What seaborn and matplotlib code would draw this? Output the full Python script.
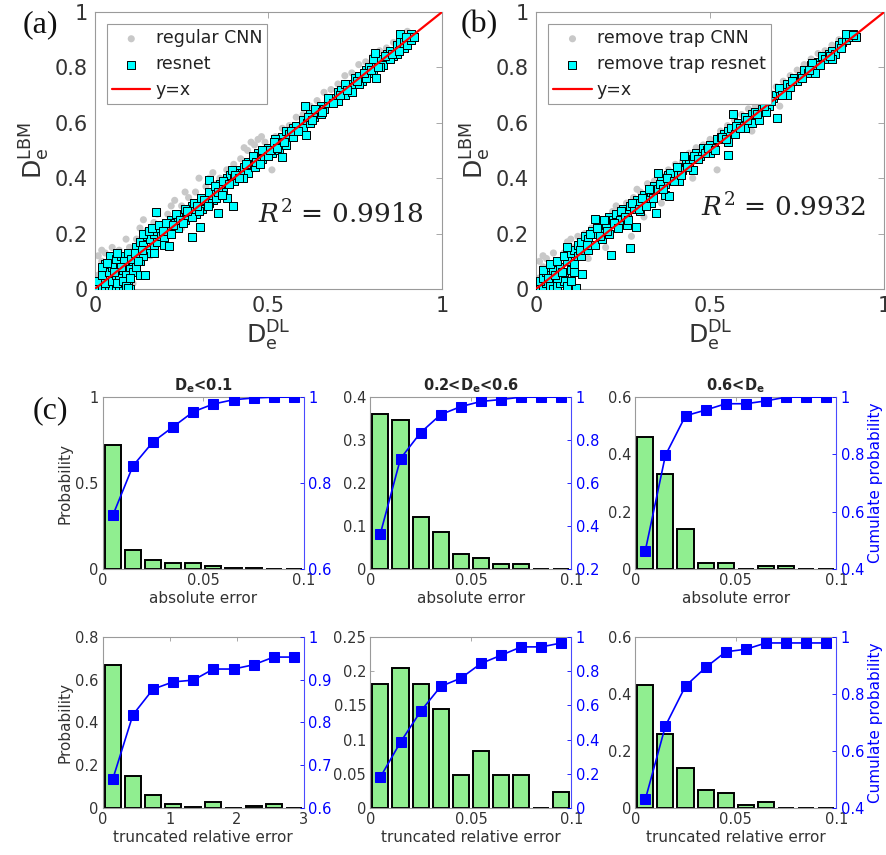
import matplotlib
matplotlib.use('Agg')
import matplotlib.pyplot as plt
import seaborn as sns

sns.set_style('white')
plt.rcParams['font.family'] = ['DejaVu Sans']
plt.rcParams['mathtext.fontset'] = 'dejavusans'

# ---------------- scatter data (D_e^DL, D_e^LBM) ----------------
cnn_a = [(0.00, 0.02), (0.01, 0.05), (0.01, 0.12), (0.02, 0.10), (0.03, 0.13), (0.04, 0.07),
         (0.05, 0.10), (0.07, 0.14), (0.09, 0.18), (0.10, 0.15), (0.12, 0.18), (0.13, 0.22),
         (0.15, 0.21), (0.17, 0.24), (0.19, 0.23), (0.21, 0.27), (0.23, 0.32), (0.25, 0.30),
         (0.27, 0.33), (0.29, 0.35), (0.30, 0.40), (0.32, 0.37), (0.34, 0.42), (0.36, 0.40),
         (0.38, 0.43), (0.40, 0.45), (0.42, 0.47), (0.44, 0.50), (0.46, 0.52), (0.47, 0.54),
         (0.49, 0.53), (0.51, 0.43), (0.52, 0.55), (0.54, 0.58), (0.56, 0.59), (0.58, 0.62),
         (0.60, 0.63), (0.62, 0.66), (0.64, 0.68), (0.66, 0.71), (0.68, 0.72), (0.70, 0.74),
         (0.72, 0.77), (0.74, 0.78), (0.76, 0.81), (0.78, 0.82), (0.80, 0.84), (0.82, 0.86),
         (0.84, 0.87), (0.86, 0.89), (0.88, 0.91), (0.90, 0.93), (0.35, 0.38), (0.20, 0.16),
         (0.16, 0.12), (0.25, 0.22), (0.08, 0.04), (0.06, 0.00), (0.11, 0.02), (0.31, 0.28),
         (0.02, 0.14), (0.05, 0.15), (0.14, 0.25), (0.18, 0.27), (0.22, 0.30), (0.26, 0.35),
         (0.33, 0.40), (0.43, 0.51), (0.45, 0.53), (0.48, 0.55)]

resnet_a = [(0.00, 0.00), (0.01, 0.00), (0.02, 0.01), (0.03, 0.00), (0.04, 0.00), (0.05, 0.00),
            (0.06, 0.00), (0.07, 0.00), (0.08, 0.00), (0.09, 0.00), (0.10, 0.00), (0.095, 0.02),
            (0.01, 0.03), (0.02, 0.05), (0.03, 0.02), (0.04, 0.06), (0.05, 0.03), (0.06, 0.05),
            (0.07, 0.04), (0.08, 0.07), (0.09, 0.05), (0.10, 0.08), (0.11, 0.06), (0.03, 0.09),
            (0.045, 0.12), (0.06, 0.11), (0.075, 0.12), (0.085, 0.10), (0.095, 0.13), (0.11, 0.10),
            (0.12, 0.12), (0.02, 0.08), (0.05, 0.08), (0.065, 0.02), (0.08, 0.03), (0.09, 0.01),
            (0.10, 0.04), (0.12, 0.08), (0.13, 0.05), (0.144, 0.052), (0.034, 0.094), (0.0625, 0.13),
            (0.12, 0.15), (0.13, 0.17), (0.14, 0.16), (0.15, 0.19), (0.16, 0.18), (0.17, 0.20),
            (0.18, 0.21), (0.15, 0.14), (0.16, 0.13), (0.17, 0.15), (0.18, 0.17), (0.19, 0.19),
            (0.20, 0.18), (0.21, 0.22), (0.22, 0.25), (0.23, 0.24), (0.24, 0.22), (0.25, 0.27),
            (0.26, 0.25), (0.27, 0.29), (0.28, 0.30), (0.29, 0.27), (0.30, 0.31), (0.31, 0.29),
            (0.32, 0.33), (0.33, 0.35), (0.34, 0.32), (0.35, 0.36), (0.36, 0.38), (0.37, 0.35),
            (0.38, 0.40), (0.39, 0.41), (0.40, 0.39), (0.41, 0.43), (0.42, 0.42), (0.43, 0.44),
            (0.44, 0.46), (0.45, 0.45), (0.46, 0.47), (0.47, 0.49), (0.48, 0.47), (0.49, 0.50),
            (0.50, 0.51), (0.51, 0.49), (0.52, 0.52), (0.53, 0.50), (0.54, 0.55), (0.55, 0.57),
            (0.56, 0.56), (0.57, 0.58), (0.58, 0.59), (0.59, 0.57), (0.60, 0.61), (0.61, 0.60),
            (0.62, 0.63), (0.63, 0.62), (0.64, 0.64), (0.65, 0.66), (0.66, 0.65), (0.67, 0.67),
            (0.68, 0.69), (0.69, 0.68), (0.70, 0.71), (0.71, 0.72), (0.72, 0.70), (0.73, 0.74),
            (0.74, 0.73), (0.75, 0.76), (0.76, 0.77), (0.77, 0.75), (0.78, 0.79), (0.79, 0.80),
            (0.80, 0.78), (0.81, 0.82), (0.82, 0.83), (0.83, 0.81), (0.84, 0.85), (0.85, 0.86),
            (0.86, 0.84), (0.87, 0.88), (0.88, 0.89), (0.89, 0.90), (0.90, 0.91), (0.91, 0.92),
            (0.92, 0.91), (0.13, 0.10), (0.14, 0.12), (0.17, 0.13), (0.20, 0.16), (0.22, 0.20),
            (0.24, 0.26), (0.26, 0.29), (0.28, 0.26), (0.30, 0.28), (0.33, 0.31), (0.35, 0.33),
            (0.37, 0.39), (0.40, 0.42), (0.42, 0.40), (0.44, 0.42), (0.46, 0.44), (0.48, 0.50),
            (0.50, 0.48), (0.52, 0.54), (0.55, 0.52), (0.57, 0.55), (0.60, 0.58), (0.62, 0.60),
            (0.65, 0.63), (0.67, 0.69), (0.70, 0.68), (0.72, 0.74), (0.74, 0.71), (0.76, 0.74),
            (0.78, 0.76), (0.80, 0.83), (0.82, 0.80), (0.85, 0.83), (0.87, 0.85), (0.89, 0.87),
            (0.90, 0.88), (0.88, 0.92), (0.91, 0.90), (0.175, 0.277), (0.279, 0.186), (0.214, 0.154),
            (0.303, 0.222), (0.330, 0.394), (0.356, 0.274), (0.399, 0.301), (0.380, 0.328),
            (0.606, 0.660), (0.609, 0.556), (0.538, 0.478), (0.096, 0.004), (0.808, 0.852),
            (0.810, 0.763), (0.918, 0.910), (0.428, 0.402),
            (0.14, 0.20), (0.155, 0.21), (0.165, 0.22), (0.185, 0.23), (0.195, 0.21), (0.205, 0.24),
            (0.225, 0.23), (0.235, 0.27), (0.245, 0.25), (0.255, 0.24), (0.265, 0.28), (0.285, 0.31),
            (0.295, 0.30), (0.305, 0.33), (0.315, 0.32), (0.325, 0.30), (0.345, 0.37), (0.355, 0.35),
            (0.365, 0.34), (0.385, 0.38), (0.395, 0.43), (0.405, 0.41), (0.415, 0.40), (0.435, 0.45),
            (0.455, 0.48), (0.465, 0.46), (0.475, 0.45), (0.505, 0.50), (0.515, 0.53), (0.525, 0.51),
            (0.545, 0.53), (0.565, 0.57), (0.585, 0.57), (0.615, 0.62), (0.625, 0.61), (0.635, 0.65),
            (0.655, 0.64), (0.685, 0.67), (0.705, 0.70), (0.725, 0.72), (0.755, 0.75), (0.775, 0.78),
            (0.795, 0.79), (0.815, 0.80), (0.835, 0.84), (0.855, 0.85), (0.875, 0.86), (0.895, 0.91),
            (0.105, 0.11), (0.115, 0.13), (0.125, 0.10), (0.135, 0.14), (0.075, 0.08), (0.055, 0.06)]

cnn_b = [(0.00, 0.01), (0.01, 0.04), (0.01, 0.10), (0.02, 0.08), (0.03, 0.11), (0.04, 0.06),
         (0.06, 0.09), (0.08, 0.13), (0.09, 0.17), (0.11, 0.15), (0.12, 0.19), (0.14, 0.20),
         (0.16, 0.22), (0.18, 0.23), (0.20, 0.25), (0.22, 0.28), (0.24, 0.29), (0.26, 0.31),
         (0.28, 0.33), (0.30, 0.35), (0.32, 0.38), (0.34, 0.39), (0.36, 0.41), (0.38, 0.43),
         (0.40, 0.45), (0.42, 0.46), (0.44, 0.49), (0.46, 0.51), (0.48, 0.52), (0.50, 0.54),
         (0.52, 0.43), (0.53, 0.57), (0.55, 0.59), (0.57, 0.61), (0.59, 0.63), (0.61, 0.65),
         (0.63, 0.66), (0.65, 0.69), (0.67, 0.71), (0.69, 0.73), (0.71, 0.75), (0.73, 0.77),
         (0.75, 0.79), (0.77, 0.81), (0.79, 0.83), (0.81, 0.85), (0.83, 0.86), (0.85, 0.88),
         (0.87, 0.90), (0.89, 0.92), (0.274, 0.19), (0.20, 0.15), (0.15, 0.11), (0.36, 0.31),
         (0.45, 0.40), (0.62, 0.57), (0.07, 0.02), (0.10, 0.04), (0.70, 0.66), (0.31, 0.26),
         (0.02, 0.12), (0.05, 0.13), (0.10, 0.18), (0.17, 0.25), (0.23, 0.30), (0.29, 0.36)]

resnet_b = [(0.00, 0.00), (0.01, 0.01), (0.02, 0.00), (0.03, 0.02), (0.04, 0.01), (0.05, 0.00),
            (0.06, 0.01), (0.07, 0.02), (0.08, 0.03), (0.09, 0.01), (0.01, 0.03), (0.02, 0.04),
            (0.03, 0.06), (0.04, 0.05), (0.05, 0.07), (0.06, 0.04), (0.07, 0.08), (0.08, 0.06),
            (0.09, 0.10), (0.10, 0.07), (0.11, 0.09), (0.02, 0.07), (0.04, 0.09), (0.06, 0.10),
            (0.08, 0.12), (0.10, 0.13), (0.11, 0.14), (0.12, 0.12), (0.09, 0.15), (0.12, 0.16),
            (0.115, 0.004), (0.131, 0.055), (0.10, 0.03), (0.11, 0.06), (0.13, 0.17), (0.14, 0.19),
            (0.15, 0.18), (0.16, 0.21), (0.17, 0.20), (0.18, 0.24), (0.19, 0.22), (0.20, 0.23),
            (0.21, 0.26), (0.22, 0.25), (0.13, 0.12), (0.15, 0.14), (0.17, 0.16), (0.19, 0.18),
            (0.21, 0.20), (0.23, 0.27), (0.24, 0.25), (0.25, 0.29), (0.26, 0.27), (0.27, 0.30),
            (0.28, 0.29), (0.29, 0.32), (0.30, 0.31), (0.31, 0.34), (0.32, 0.33), (0.33, 0.35),
            (0.34, 0.37), (0.35, 0.36), (0.36, 0.39), (0.37, 0.38), (0.38, 0.41), (0.39, 0.40),
            (0.40, 0.42), (0.41, 0.44), (0.42, 0.43), (0.43, 0.46), (0.44, 0.45), (0.45, 0.47),
            (0.46, 0.49), (0.47, 0.48), (0.48, 0.51), (0.49, 0.50), (0.50, 0.52), (0.51, 0.51),
            (0.52, 0.54), (0.53, 0.55), (0.54, 0.56), (0.55, 0.57), (0.56, 0.58), (0.57, 0.56),
            (0.58, 0.60), (0.59, 0.59), (0.60, 0.62), (0.61, 0.60), (0.62, 0.63), (0.63, 0.64),
            (0.64, 0.63), (0.65, 0.65), (0.66, 0.67), (0.67, 0.66), (0.68, 0.69), (0.69, 0.70),
            (0.70, 0.71), (0.71, 0.72), (0.72, 0.74), (0.73, 0.73), (0.74, 0.76), (0.75, 0.75),
            (0.76, 0.77), (0.77, 0.79), (0.78, 0.78), (0.79, 0.81), (0.80, 0.80), (0.81, 0.82),
            (0.82, 0.84), (0.83, 0.83), (0.84, 0.85), (0.85, 0.86), (0.86, 0.85), (0.87, 0.88),
            (0.88, 0.89), (0.89, 0.90), (0.90, 0.91), (0.91, 0.92), (0.92, 0.91), (0.89, 0.92),
            (0.26, 0.23), (0.30, 0.28), (0.33, 0.31), (0.37, 0.34), (0.41, 0.39), (0.45, 0.43),
            (0.50, 0.49), (0.55, 0.53), (0.60, 0.58), (0.66, 0.64), (0.72, 0.70), (0.80, 0.78),
            (0.85, 0.83), (0.215, 0.121), (0.271, 0.148), (0.288, 0.223), (0.345, 0.276),
            (0.383, 0.334), (0.550, 0.484), (0.693, 0.616), (0.567, 0.631), (0.350, 0.418),
            (0.424, 0.480), (0.386, 0.420), (0.169, 0.252), (0.793, 0.816), (0.911, 0.918),
            (0.697, 0.727), (0.62, 0.60), (0.64, 0.61),
            (0.125, 0.14), (0.145, 0.16), (0.155, 0.20), (0.175, 0.22), (0.185, 0.19), (0.195, 0.25),
            (0.205, 0.21), (0.225, 0.24), (0.235, 0.22), (0.245, 0.28), (0.255, 0.26), (0.265, 0.25),
            (0.275, 0.31), (0.295, 0.29), (0.305, 0.33), (0.315, 0.30), (0.325, 0.36), (0.335, 0.33),
            (0.355, 0.38), (0.365, 0.36), (0.375, 0.40), (0.395, 0.39), (0.405, 0.44), (0.415, 0.41),
            (0.435, 0.44), (0.455, 0.48), (0.465, 0.47), (0.485, 0.49), (0.495, 0.51), (0.515, 0.50),
            (0.535, 0.55), (0.545, 0.54), (0.575, 0.59), (0.585, 0.58), (0.605, 0.61), (0.635, 0.63),
            (0.655, 0.66), (0.675, 0.68), (0.705, 0.70), (0.735, 0.75), (0.765, 0.76), (0.785, 0.79),
            (0.815, 0.81), (0.845, 0.84), (0.875, 0.87), (0.035, 0.04), (0.055, 0.05), (0.075, 0.06)]

diag = [0, 1]

# ---------------- error histograms ----------------
abs_centers = [0.005, 0.015, 0.025, 0.035, 0.045, 0.055, 0.065, 0.075, 0.085, 0.095]
rel_centers_low = [0.15, 0.45, 0.75, 1.05, 1.35, 1.65, 1.95, 2.25, 2.55, 2.85]

abs_prob_low = [0.72, 0.11, 0.055, 0.035, 0.035, 0.015, 0.005, 0.003, 0.002, 0.001]
abs_cum_low = [0.725, 0.84, 0.896, 0.931, 0.966, 0.984, 0.994, 0.998, 1.0, 1.0]
abs_prob_mid = [0.36, 0.347, 0.12, 0.085, 0.036, 0.025, 0.012, 0.012, 0.0, 0.0]
abs_cum_mid = [0.365, 0.714, 0.835, 0.919, 0.956, 0.98, 0.989, 1.0, 1.0, 1.0]
abs_prob_high = [0.46, 0.333, 0.14, 0.022, 0.022, 0.0, 0.011, 0.011, 0.0, 0.0]
abs_cum_high = [0.464, 0.797, 0.935, 0.955, 0.977, 0.977, 0.987, 1.0, 1.0, 1.0]

rel_prob_low = [0.668, 0.151, 0.061, 0.017, 0.006, 0.028, 0.001, 0.011, 0.017, 0.002]
rel_cum_low = [0.668, 0.818, 0.878, 0.895, 0.899, 0.925, 0.925, 0.935, 0.953, 0.953]
rel_prob_mid = [0.181, 0.205, 0.181, 0.145, 0.0485, 0.084, 0.0485, 0.0485, 0.0, 0.024]
rel_cum_mid = [0.181, 0.385, 0.565, 0.711, 0.759, 0.845, 0.893, 0.942, 0.942, 0.965]
rel_prob_high = [0.43, 0.258, 0.14, 0.064, 0.054, 0.011, 0.022, 0.0, 0.0, 0.0]
rel_cum_high = [0.43, 0.688, 0.828, 0.893, 0.948, 0.957, 0.979, 0.979, 0.979, 0.979]

titles = [r'$\mathbf{D_e}$<0.1', r'0.2<$\mathbf{D_e}$<0.6', r'0.6<$\mathbf{D_e}$']

SPINE = '#9a9a9a'
TXT = '#333333'

fig = plt.figure(figsize=(8.86, 8.55), dpi=100)


def scatter_panel(rect, cnn, res, names, r2, r2_xy):
    ax = fig.add_axes(rect)
    cx, cy = zip(*cnn)
    rx, ry = zip(*res)
    sns.scatterplot(x=list(cx), y=list(cy), ax=ax, color='#c8c8c8', s=26,
                    edgecolor='none', label=names[0], zorder=2)
    sns.scatterplot(x=list(rx), y=list(ry), ax=ax, color='#00ffff', marker='s', s=28,
                    edgecolor='black', linewidth=0.7, label=names[1], zorder=3)
    sns.lineplot(x=diag, y=diag, ax=ax, color='red', linewidth=1.6, label='y=x', zorder=4)
    ax.set_xlim(0, 1)
    ax.set_ylim(0, 1)
    ax.set_xticks([0, 0.5, 1])
    ax.set_xticklabels(['0', '0.5', '1'])
    ax.set_yticks([0, 0.2, 0.4, 0.6, 0.8, 1])
    ax.set_yticklabels(['0', '0.2', '0.4', '0.6', '0.8', '1'])
    ax.tick_params(direction='in', length=4, width=0.6, color=SPINE, labelcolor=TXT,
                   labelsize=15, top=True, right=True, pad=5)
    for sp in ax.spines.values():
        sp.set_color(SPINE)
        sp.set_linewidth(0.8)
    ax.set_xlabel(r'$\mathrm{D_e^{DL}}$', fontsize=18, color=TXT, labelpad=2)
    ax.set_ylabel(r'$\mathrm{D_e^{LBM}}$', fontsize=18, color=TXT, labelpad=2)
    leg = ax.legend(loc='upper left', fontsize=12.5, fancybox=False, framealpha=1,
                    edgecolor=SPINE, borderaxespad=0.7, handlelength=2.2,
                    handletextpad=0.3, labelspacing=0.45, borderpad=0.3)
    leg.get_frame().set_linewidth(0.8)
    for t in leg.get_texts():
        t.set_color('#222222')
    ax.text(r2_xy[0], r2_xy[1], r2, fontsize=19, family='DejaVu Serif',
            math_fontfamily='dejavuserif', ha='left', va='center', color='#222222')
    return ax


scatter_panel([0.107, 0.662, 0.392, 0.324], cnn_a, resnet_a,
              ['regular CNN', 'resnet'], r'$R^2$ = 0.9918', (0.47, 0.27))
scatter_panel([0.605, 0.662, 0.393, 0.324], cnn_b, resnet_b,
              ['remove trap CNN', 'remove trap resnet'], r'$R^2$ = 0.9932', (0.475, 0.295))


def hist_panel(rect, centers, probs, cums, xlim, xt, xtl, ylim, yt, ytl, rlim, rt, rtl,
               title=None, xlabel='', left_label=False, right_label=False):
    ax = fig.add_axes(rect)
    sns.barplot(x=centers, y=probs, native_scale=True, ax=ax, color='#90ee90',
                saturation=1, edgecolor='black', linewidth=1.4, width=0.8, errorbar=None)
    ax.set_xlim(*xlim)
    ax.set_ylim(*ylim)
    ax.set_xticks(xt)
    ax.set_xticklabels(xtl)
    ax.set_yticks(yt)
    ax.set_yticklabels(ytl)
    ax.tick_params(direction='in', length=3, width=0.6, color=SPINE, labelcolor=TXT,
                   labelsize=10.5, top=True, right=False, pad=3)
    for k in ['left', 'top', 'bottom']:
        ax.spines[k].set_color(SPINE)
        ax.spines[k].set_linewidth(0.8)
    ax.spines['right'].set_visible(False)
    ax.set_xlabel(xlabel, fontsize=11, color=TXT, labelpad=2)
    ax.set_ylabel('Probability' if left_label else '', fontsize=11, color=TXT, labelpad=2)
    if title:
        ax.set_title(title, fontsize=10.5, fontweight='bold', pad=5)

    ax2 = ax.twinx()
    sns.lineplot(x=centers, y=cums, ax=ax2, color='blue', marker='s', markersize=6.5,
                 markeredgecolor='blue', linewidth=1.2)
    ax2.set_ylim(*rlim)
    ax2.set_yticks(rt)
    ax2.set_yticklabels(rtl)
    ax2.tick_params(axis='y', direction='in', length=3, width=0.6, color='blue',
                    labelcolor='blue', labelsize=10.5, pad=3)
    for k in ['left', 'top', 'bottom']:
        ax2.spines[k].set_visible(False)
    ax2.spines['right'].set_color('#4a4aff')
    ax2.spines['right'].set_linewidth(0.8)
    ax2.set_ylabel('Cumulate probability' if right_label else '', fontsize=11,
                   color='blue', labelpad=3)
    return ax


cols = [0.116, 0.418, 0.717]
w = 0.227
row1_b, row1_h = 0.3345, 0.201
row2_b, row2_h = 0.055, 0.200

abs_xt = [0, 0.05, 0.1]
abs_xtl = ['0', '0.05', '0.1']

hist_panel([cols[0], row1_b, w, row1_h], abs_centers, abs_prob_low, abs_cum_low,
           (0, 0.1), abs_xt, abs_xtl, (0, 1), [0, 0.5, 1], ['0', '0.5', '1'],
           (0.6, 1), [0.6, 0.8, 1], ['0.6', '0.8', '1'],
           title=titles[0], xlabel='absolute error', left_label=True)
hist_panel([cols[1], row1_b, w, row1_h], abs_centers, abs_prob_mid, abs_cum_mid,
           (0, 0.1), abs_xt, abs_xtl, (0, 0.4), [0, 0.1, 0.2, 0.3, 0.4],
           ['0', '0.1', '0.2', '0.3', '0.4'],
           (0.2, 1), [0.2, 0.4, 0.6, 0.8, 1], ['0.2', '0.4', '0.6', '0.8', '1'],
           title=titles[1], xlabel='absolute error')
hist_panel([cols[2], row1_b, w, row1_h], abs_centers, abs_prob_high, abs_cum_high,
           (0, 0.1), abs_xt, abs_xtl, (0, 0.6), [0, 0.2, 0.4, 0.6], ['0', '0.2', '0.4', '0.6'],
           (0.4, 1), [0.4, 0.6, 0.8, 1], ['0.4', '0.6', '0.8', '1'],
           title=titles[2], xlabel='absolute error', right_label=True)

hist_panel([cols[0], row2_b, w, row2_h], rel_centers_low, rel_prob_low, rel_cum_low,
           (0, 3), [0, 1, 2, 3], ['0', '1', '2', '3'], (0, 0.8), [0, 0.2, 0.4, 0.6, 0.8],
           ['0', '0.2', '0.4', '0.6', '0.8'],
           (0.6, 1), [0.6, 0.7, 0.8, 0.9, 1], ['0.6', '0.7', '0.8', '0.9', '1'],
           xlabel='truncated relative error', left_label=True)
hist_panel([cols[1], row2_b, w, row2_h], abs_centers, rel_prob_mid, rel_cum_mid,
           (0, 0.1), abs_xt, abs_xtl, (0, 0.25), [0, 0.05, 0.1, 0.15, 0.2, 0.25],
           ['0', '0.05', '0.1', '0.15', '0.2', '0.25'],
           (0, 1), [0, 0.2, 0.4, 0.6, 0.8, 1], ['0', '0.2', '0.4', '0.6', '0.8', '1'],
           xlabel='truncated relative error')
hist_panel([cols[2], row2_b, w, row2_h], abs_centers, rel_prob_high, rel_cum_high,
           (0, 0.1), abs_xt, abs_xtl, (0, 0.6), [0, 0.2, 0.4, 0.6], ['0', '0.2', '0.4', '0.6'],
           (0.4, 1), [0.4, 0.6, 0.8, 1], ['0.4', '0.6', '0.8', '1'],
           xlabel='truncated relative error', right_label=True)

for lab, x, y in [('(a)', 0.026, 0.971), ('(b)', 0.520, 0.971), ('(c)', 0.037, 0.520)]:
    fig.text(x, y, lab, fontsize=23, family='Liberation Serif', ha='left', va='center',
             color='#111111')

fig.savefig('out.png', dpi=100)
